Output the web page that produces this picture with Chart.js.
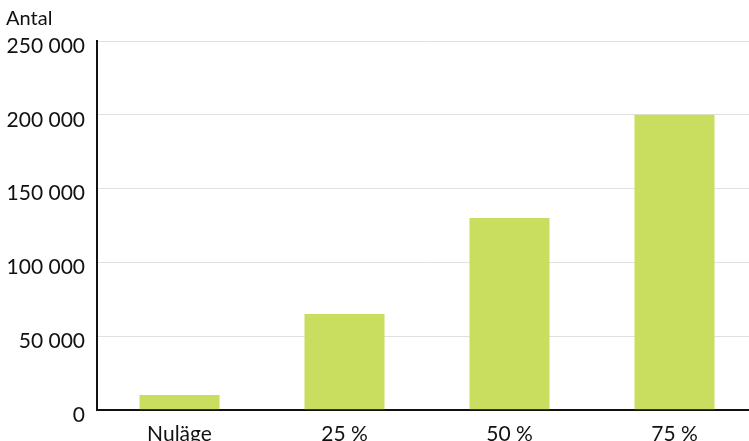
<!DOCTYPE html>
<html>
<head>
<meta charset="utf-8">
<script src="https://cdn.jsdelivr.net/npm/chart.js@4"></script>
<style>
	html, body { margin: 0; padding: 0; overflow: hidden; background: #fff; }
	#wrap { width: 757px; height: 459px; position: relative; }
</style>
</head>
<body>
<div id="wrap"><canvas id="chart"></canvas></div>
<script>
var categories = ["Nuläge", "25 %", "50 %", "75 %"]
var antal = [10000, 65000, 130000, 200000]
var yTicks = [0, 50000, 100000, 150000, 200000, 250000]

function spaced(v)
{
	return String(v).replace(/\B(?=(\d{3})+(?!\d))/g, " ")
}

window.onload = function()
{
	var ctx = document.getElementById("chart")
	var chart = new Chart(ctx, {
		type: 'bar',
		data: {
			labels: categories,
			datasets: [{
				data: antal,
				backgroundColor: 'rgb(201, 221, 95)',
				borderWidth: 0,
				categoryPercentage: 1,
				barPercentage: 0.485
			}]
		},
		options: {
			responsive: true,
			maintainAspectRatio: false,
			animation: false,
			layout: { padding: { left: 6, top: 7, right: 0, bottom: 0 } },
			plugins: {
				legend: { display: false },
				tooltip: { enabled: false },
				title: {
					display: true,
					text: 'Antal',
					align: 'start',
					color: '#111',
					font: { family: 'Lato', size: 20, weight: 'normal' },
					padding: { top: 0, bottom: 10 }
				}
			},
			scales: {
				y: {
					min: 0,
					max: 250000,
					afterBuildTicks: function(s) { s.ticks = yTicks.map(function(v) { return { value: v } }) },
					afterFit: function(s) { s.width = 91 },
					border: { display: true, color: '#111', width: 2 },
					grid: { color: '#e0e0e0', lineWidth: 1, drawTicks: false },
					ticks: {
						color: '#111',
						padding: 12,
						labelOffset: 5,
						font: { family: 'Lato', size: 21 },
						callback: function(v) { return spaced(v) }
					}
				},
				x: {
					border: { display: true, color: '#111', width: 2 },
					grid: { display: false, drawTicks: false },
					ticks: {
						color: '#111',
						padding: 12,
						font: { family: 'Lato', size: 21 }
					}
				}
			}
		}
	})
}
</script>
</body>
</html>
